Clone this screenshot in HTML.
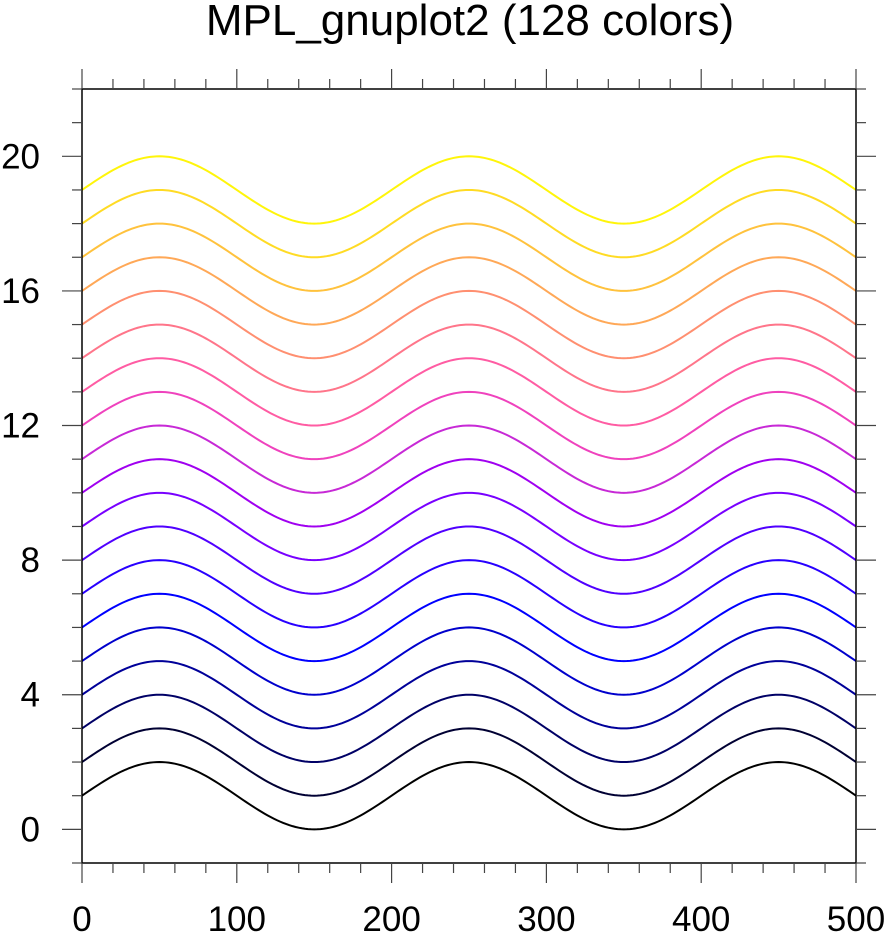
<!DOCTYPE html>
<html><head><style>body{margin:0;background:#fff}svg{display:block}</style></head>
<body>
<svg id="s" width="886" height="935" xmlns="http://www.w3.org/2000/svg" font-family="Liberation Sans, sans-serif">
<text x="470" y="35" font-size="44" text-anchor="middle">MPL_gnuplot2 (128 colors)</text>
</svg>
<script>
const s=document.getElementById('s');const NS='http://www.w3.org/2000/svg';
const L=82,R=856,T=89,B=863;
const X=v=>L+(R-L)*v/500, Y=v=>B-(B-T)*(v+1)/23;
function el(n,a,t){const e=document.createElementNS(NS,n);for(const k in a)e.setAttribute(k,a[k]);if(t!=null)e.textContent=t;s.appendChild(e);return e;}
const cols=['#000000','#000033','#000066','#000099','#0000cc','#0000ff','#2800ff','#5000ff','#7800ff','#a000f0','#c729d6','#ef42bd','#ff5ca3','#ff758a','#ff8f70','#ffa857','#ffc23d','#ffdb24','#fff50a'];
for(let i=0;i<19;i++){let d='';for(let x=0;x<=500;x+=2){const y=i+1+Math.sin(2*Math.PI*x/200);d+=(x?'L':'M')+X(x).toFixed(2)+' '+Y(y).toFixed(2);}
el('path',{d:d,fill:'none',stroke:cols[i],'stroke-width':2});}
el('rect',{x:L,y:T,width:R-L,height:B-T,fill:'none',stroke:'#000','stroke-width':1.5});
for(let x=0;x<=500;x+=20){const maj=x%100==0,l=maj?20:10,px=X(x);
el('line',{x1:px,y1:B,x2:px,y2:B+l,stroke:'#444','stroke-width':1.2});
el('line',{x1:px,y1:T,x2:px,y2:T-l,stroke:'#444','stroke-width':1.2});
if(maj)el('text',{x:px,y:931,'font-size':35,'text-anchor':'middle'},x);}
for(let v=-1;v<=22;v++){const maj=v%4==0,l=maj?20:10,py=Y(v);
el('line',{x1:L,y1:py,x2:L-l,y2:py,stroke:'#444','stroke-width':1.2});
el('line',{x1:R,y1:py,x2:R+l,y2:py,stroke:'#444','stroke-width':1.2});
if(maj&&v>=0)el('text',{x:40,y:py+12,'font-size':35,'text-anchor':'end'},v);}
</script>
</body></html>
